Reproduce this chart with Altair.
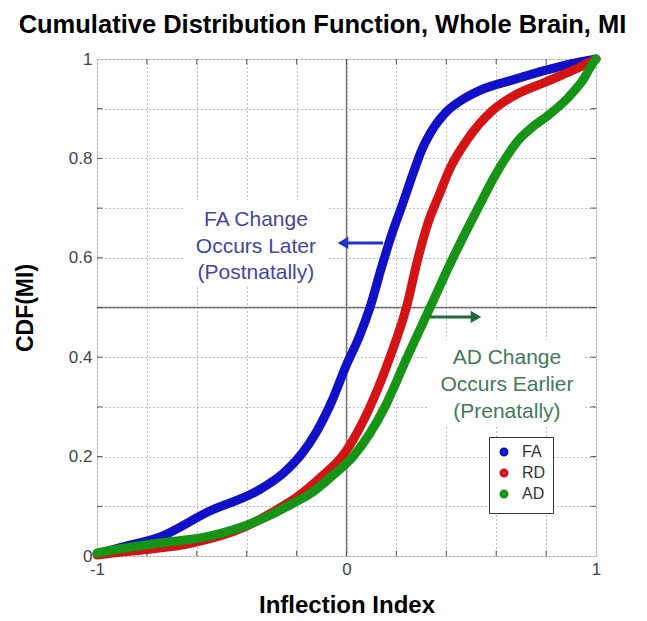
import altair as alt
import pandas as pd

# ---------------- data ----------------
series_names = ["FA", "RD", "AD"]
series_colors = ["#1010c8", "#d41414", "#159415"]

fa_x = [-1.0, -0.9, -0.75, -0.55, -0.35, -0.25, -0.18, -0.12, -0.06, 0.0, 0.05, 0.094,
        0.14, 0.18, 0.226, 0.267, 0.30, 0.335, 0.403, 0.47, 0.535, 0.667, 0.804, 0.936, 1.0]
fa_y = [0.004, 0.018, 0.038, 0.09, 0.133, 0.168, 0.205, 0.25, 0.31, 0.385, 0.44, 0.50,
        0.58, 0.645, 0.71, 0.77, 0.815, 0.85, 0.895, 0.92, 0.937, 0.958, 0.978, 0.994, 1.0]

rd_x = [-1.0, -0.95, -0.82, -0.62, -0.41, -0.28, -0.198, -0.1, -0.018, 0.094, 0.174,
        0.24, 0.287, 0.33, 0.37, 0.415, 0.483, 0.587, 0.667, 0.804, 0.936, 1.0]
rd_y = [0.002, 0.005, 0.012, 0.026, 0.058, 0.093, 0.119, 0.16, 0.20, 0.30, 0.40,
        0.50, 0.60, 0.675, 0.725, 0.78, 0.837, 0.897, 0.925, 0.955, 0.984, 1.0]

ad_x = [-1.0, -0.9, -0.75, -0.55, -0.35, -0.21, -0.146, -0.06, 0.026, 0.154, 0.243,
        0.335, 0.427, 0.527, 0.595, 0.65, 0.695, 0.75, 0.804, 0.884, 0.948, 0.988, 1.0]
ad_y = [0.006, 0.015, 0.026, 0.04, 0.072, 0.107, 0.125, 0.16, 0.20, 0.30, 0.40,
        0.50, 0.60, 0.70, 0.765, 0.81, 0.84, 0.865, 0.885, 0.92, 0.958, 0.992, 1.0]

x_grid_values = [-1.0, -0.8, -0.6, -0.4, -0.2, 0.0, 0.2, 0.4, 0.6, 0.8, 1.0]
y_grid_values = [0.0, 0.1, 0.2, 0.3, 0.4, 0.5, 0.6, 0.7, 0.8, 0.9, 1.0]

# annotations
fa_lines = ["FA Change", "Occurs Later", "(Postnatally)"]
fa_text_x = -0.363
fa_text_y = [0.676, 0.622, 0.569]
fa_box = {"x": -0.647, "x2": -0.078, "y": 0.541, "y2": 0.716}
fa_arrow = {"tail": 0.146, "head": -0.014, "y": 0.63}

ad_lines = ["AD Change", "Occurs Earlier", "(Prenatally)"]
ad_text_x = 0.643
ad_text_y = [0.398, 0.344, 0.290]
ad_box = {"x": 0.327, "x2": 0.956, "y": 0.26, "y2": 0.435}
ad_arrow = {"tail": 0.335, "head": 0.519, "y": 0.481}

FONT = "Liberation Sans"

# ---------------- tables ----------------
rows = []
for name, xs, ys in zip(series_names, [fa_x, rd_x, ad_x], [fa_y, rd_y, ad_y]):
    for i, (xv, yv) in enumerate(zip(xs, ys)):
        rows.append({"series": name, "x": xv, "cdf": yv, "ord": i})
curves = pd.DataFrame(rows)

text_rows = [{"x": fa_text_x, "cdf": v, "label": t, "grp": "FA"} for t, v in zip(fa_lines, fa_text_y)]
text_rows += [{"x": ad_text_x, "cdf": v, "label": t, "grp": "AD"} for t, v in zip(ad_lines, ad_text_y)]
texts = pd.DataFrame(text_rows)

boxes = pd.DataFrame([fa_box, ad_box]).rename(columns={"y": "cdf", "y2": "cdf2"})

arrows = pd.DataFrame([
    {"x": fa_arrow["tail"], "x2": fa_arrow["head"], "cdf": fa_arrow["y"], "grp": "FA", "shape": "triangle-left"},
    {"x": ad_arrow["tail"], "x2": ad_arrow["head"], "cdf": ad_arrow["y"], "grp": "AD", "shape": "triangle-right"},
])

tick_rows = []
inner = [v for v in x_grid_values if -1 < v < 1]
for v in inner:
    tick_rows.append({"x": v, "x2": v, "cdf": 0.0, "cdf2": 0.011})
    tick_rows.append({"x": v, "x2": v, "cdf": 1.0, "cdf2": 0.989})
for v in [w for w in y_grid_values if 0 < w < 1]:
    tick_rows.append({"x": -1.0, "x2": -0.978, "cdf": v, "cdf2": v})
    tick_rows.append({"x": 1.0, "x2": 0.978, "cdf": v, "cdf2": v})
ticks = pd.DataFrame(tick_rows)

axes_lines = pd.DataFrame([
    {"x": 0.0, "x2": 0.0, "cdf": 0.0, "cdf2": 1.0},
    {"x": -1.0, "x2": 1.0, "cdf": 0.5, "cdf2": 0.5},
])

# ---------------- scales / axes ----------------
x_scale = alt.Scale(domain=[-1, 1], nice=False, zero=False)
y_scale = alt.Scale(domain=[0, 1], nice=False, zero=False)

x_axis = alt.Axis(
    values=x_grid_values, grid=True, gridDash=[1, 3], gridColor="#7a7a7a", gridWidth=1,
    ticks=False, domain=False,
    labelExpr="datum.value == -1 ? '-1' : (datum.value == 0 ? '0' : (datum.value == 1 ? '1' : ''))",
    labelFont=FONT, labelFontSize=17, labelColor="#444", labelPadding=5, labelFlush=False,
    title="Inflection Index", titleFont=FONT, titleFontSize=24, titleFontWeight="bold",
    titleColor="#000", titlePadding=16,
)
y_axis = alt.Axis(
    values=y_grid_values, grid=True, gridDash=[1, 3], gridColor="#7a7a7a", gridWidth=1,
    ticks=False, domain=False,
    labelExpr="round(datum.value*10) % 2 == 0 ? (datum.value == 0 ? '0' : (datum.value == 1 ? '1' : format(datum.value, '.1f'))) : ''",
    labelFont=FONT, labelFontSize=17, labelColor="#444", labelPadding=5, labelFlush=False,
    title="CDF(MI)", titleFont=FONT, titleFontSize=23, titleFontWeight="bold",
    titleColor="#000", titlePadding=31,
)


def X(field="x"):
    return alt.X(field, type="quantitative", scale=x_scale, axis=x_axis)


def Y(field="cdf"):
    return alt.Y(field, type="quantitative", scale=y_scale, axis=y_axis)


base_grid = alt.Chart(axes_lines).mark_rule(color="#777", strokeWidth=1.4).encode(
    x=X(), x2="x2", y=Y(), y2="cdf2"
)

tick_layer = alt.Chart(ticks).mark_rule(color="#555", strokeWidth=1).encode(
    x=X(), x2="x2", y=Y(), y2="cdf2"
)

box_layer = alt.Chart(boxes).mark_rect(fill="white").encode(
    x=X(), x2="x2", y=Y(), y2="cdf2"
)

curve_layer = alt.Chart(curves).mark_line(
    strokeWidth=9, interpolate="monotone", strokeCap="round", strokeJoin="round"
).encode(
    x=X(), y=Y(),
    order="ord:Q",
    color=alt.Color(
        "series:N",
        scale=alt.Scale(domain=series_names, range=series_colors),
        legend=alt.Legend(
            title=None, orient="none", legendX=392, legendY=378, direction="vertical",
            symbolType="circle", symbolSize=16, symbolStrokeWidth=5, symbolOpacity=1,
            labelFont=FONT, labelFontSize=16, labelColor="#333", labelOffset=10,
            padding=7, strokeColor="#333", fillColor="white", rowPadding=-3,
        ),
    ),
)

arrow_colors = alt.Scale(domain=["FA", "AD"], range=["#2233cc", "#1f6b3a"])
text_colors = alt.Scale(domain=["FA", "AD"], range=["#44469c", "#3f7a55"])

shaft_layer = alt.Chart(arrows).mark_rule(strokeWidth=3).encode(
    x=X(), x2="x2", y=Y(),
    color=alt.Color("grp:N", scale=arrow_colors, legend=None),
)
head_layer = alt.Chart(arrows).mark_point(filled=True, size=150, opacity=1).encode(
    x=alt.X("x2", type="quantitative", scale=x_scale, axis=x_axis),
    y=Y(),
    shape=alt.Shape("shape:N", scale=None, legend=None),
    color=alt.Color("grp:N", scale=arrow_colors, legend=None),
)

text_layer = alt.Chart(texts).mark_text(
    font=FONT, fontSize=21, align="center", baseline="middle"
).encode(
    x=X(), y=Y(), text="label:N",
    color=alt.Color("grp:N", scale=text_colors, legend=None),
)

chart = alt.layer(
    base_grid, box_layer, tick_layer, curve_layer, shaft_layer, head_layer, text_layer
).resolve_scale(color="independent").properties(
    width=499, height=497,
    autosize=alt.AutoSizeParams(type="none"),
    padding={"left": 89, "top": 51, "right": 43, "bottom": 62},
    title=alt.TitleParams(
        text="Cumulative Distribution Function, Whole Brain, MI",
        font=FONT, fontSize=25.5, fontWeight="bold", color="#000",
        anchor="middle", frame="group", dx=-24, offset=12,
    ),
).configure_view(stroke="#555", strokeWidth=1.3).configure(background="white")

chart.save("out.html", embed_options={"renderer": "svg", "actions": False})
